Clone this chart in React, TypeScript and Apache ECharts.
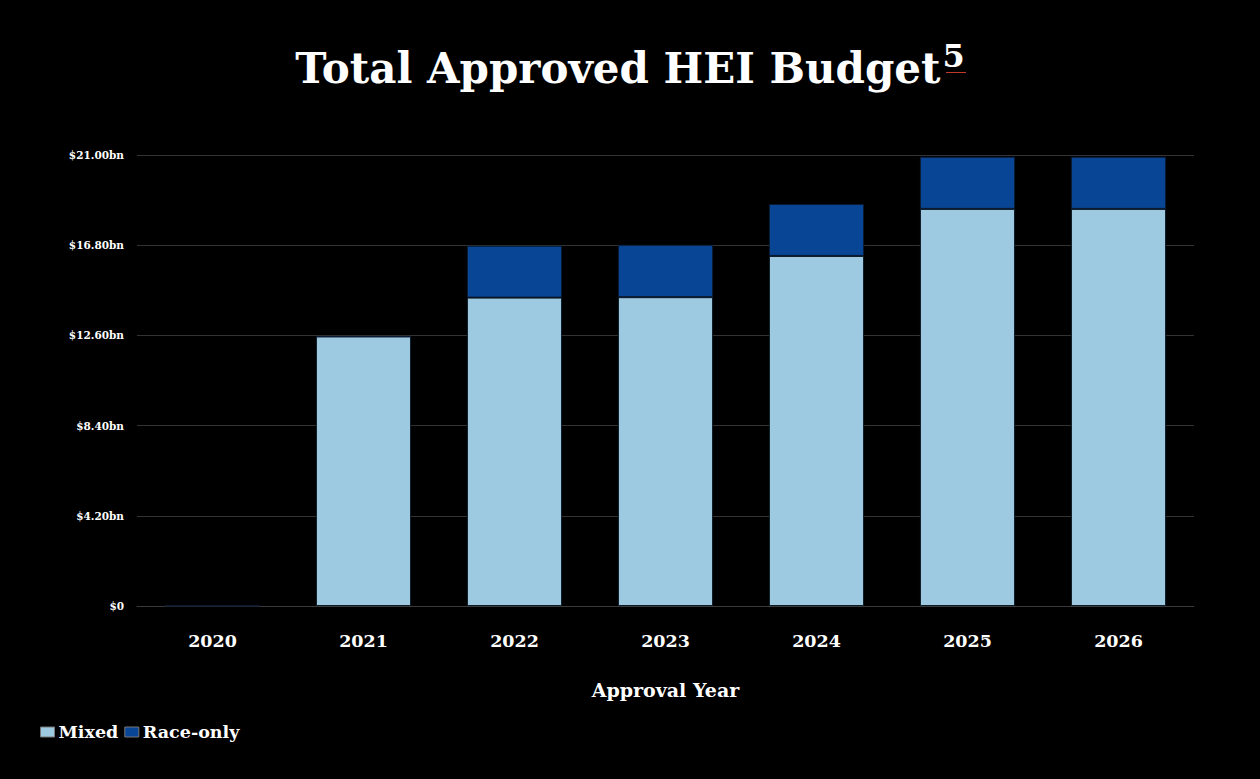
import React, { useEffect, useRef } from 'react';
import * as echarts from 'echarts';

const years = ['2020', '2021', '2022', '2023', '2024', '2025', '2026'];
// values in $bn
const mixed = [0.02, 12.55, 14.36, 14.38, 16.3, 18.49, 18.49];
const raceOnly = [0, 0, 2.42, 2.44, 2.42, 2.43, 2.43];

const FONT = '"DejaVu Serif", "Liberation Serif", serif';

const formatBn = (v: number) => (v === 0 ? '$0' : `$${v.toFixed(2)}bn`);

const App: React.FC = () => {
  const chartRef = useRef<HTMLDivElement>(null);

  useEffect(() => {
    document.body.style.margin = '0';
    document.body.style.background = '#000';
    if (!chartRef.current) return;
    const chart = echarts.init(chartRef.current, undefined, { renderer: 'svg' });

    const option: echarts.EChartsOption = {
      animation: false,
      backgroundColor: '#000',
      textStyle: { fontFamily: FONT },
      title: {
        text: '{t|Total Approved HEI Budget}{s|5}',
        left: 'center',
        top: 35,
        textStyle: {
          rich: {
            t: { fontFamily: FONT, fontSize: 42, fontWeight: 'bold', color: '#fff', lineHeight: 56 },
            s: {
              fontFamily: FONT,
              fontSize: 32,
              fontWeight: 'bold',
              color: '#fff',
              lineHeight: 56,
              padding: [0, 0, 25, 2],
            },
          },
        },
      },
      legend: {
        left: 35,
        top: 718,
        icon: 'rect',
        itemWidth: 14,
        itemHeight: 10,
        itemGap: 6,
        textStyle: { color: '#fff', fontSize: 17.5, fontFamily: FONT, fontWeight: 'bold', padding: [0, 0, 0, -1] },
        itemStyle: { borderColor: '#777', borderWidth: 1 },
        data: ['Mixed', 'Race-only'],
      },
      grid: { left: 137, right: 66, top: 155, bottom: 173 },
      xAxis: {
        type: 'category',
        data: years,
        name: 'Approval Year',
        nameLocation: 'middle',
        nameGap: 74,
        nameTextStyle: { color: '#fff', fontSize: 19, fontWeight: 'bold', fontFamily: FONT },
        axisLine: { lineStyle: { color: '#3a3a3a' } },
        axisTick: { show: false },
        axisLabel: { color: '#fff', fontSize: 17.5, fontWeight: 'bold', fontFamily: FONT, margin: 26 },
      },
      yAxis: {
        type: 'value',
        min: 0,
        max: 21,
        interval: 4.2,
        axisLine: { show: false },
        axisTick: { show: false },
        splitLine: { lineStyle: { color: '#333', width: 1 } },
        axisLabel: {
          color: '#fff',
          fontSize: 10.5,
          fontWeight: 'bold',
          fontFamily: FONT,
          margin: 13,
          formatter: (v: number) => formatBn(v),
        },
      },
      series: [
        {
          name: 'Mixed',
          type: 'bar',
          stack: 'total',
          barWidth: '63%',
          data: mixed,
          itemStyle: { color: '#9ecae1', borderColor: '#0d1a26', borderWidth: 1 },
        },
        {
          name: 'Race-only',
          type: 'bar',
          stack: 'total',
          barWidth: '63%',
          data: raceOnly,
          itemStyle: { color: '#084594', borderColor: '#0a1a33', borderWidth: 1 },
        },
      ],
      graphic: [
        {
          type: 'rect',
          left: 946,
          top: 72,
          shape: { width: 20, height: 1 },
          style: { fill: '#c0392b' },
        },
      ],
    };

    chart.setOption(option);
    return () => {
      chart.dispose();
    };
  }, []);

  return <div ref={chartRef} style={{ width: 1260, height: 779, background: '#000' }} />;
};

export default App;
